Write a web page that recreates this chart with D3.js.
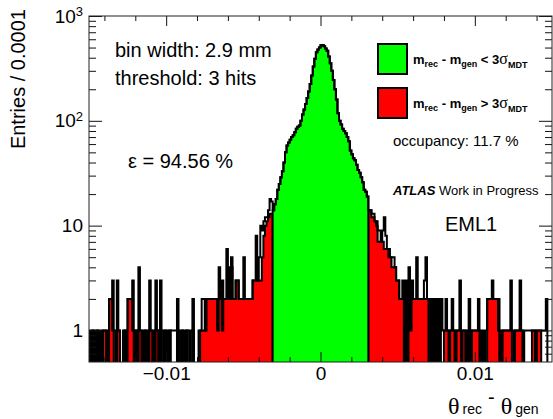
<!DOCTYPE html>
<html>
<head>
<meta charset="utf-8">
<script src="https://cdn.jsdelivr.net/npm/d3@7"></script>
<style>
  body { margin: 0; background: #fff; }
  svg { display: block; font-family: "Liberation Sans", Arial, Helvetica, sans-serif; }
  text { white-space: pre; }
</style>
</head>
<body>
<svg id="chart" width="553" height="419"></svg>
<script>
// histogram binning: 300 bins of 0.0001 from -0.015
const binLow = -0.015;
const binWidth = 0.0001;

// left tail, bins 0..118
const leftTotal = [1,0,1,0,1,1,0,1,0,1, 1,0,1,2,2,3,1,0,3,1, 0,0,1,1,1,2,2,2,3,1, 1,0,4,1,1,0,1,1,0,3,
  1,1,0,3,1,0,3,1,0,1, 1,0,1,1,1,1,1,2,1,0, 1,1,0,1,1,0,1,2,0,0, 0,1,1,2,2,1,2,2,2,2,
  2,2,2,2,4,2,3,2,2,6, 2,4,5,2,2,3,3,2,2,2, 5,2,2,2,2,2,3,3,8,3, 5,10,9,11,12,12,14,18,17];
const leftRed = [0,0,1,0,0,1,0,0,0,1, 1,0,0,2,2,1,0,0,1,1, 0,0,0,1,0,2,2,2,1,0, 1,0,1,1,0,0,1,0,0,1,
  1,0,0,1,1,0,1,0,0,1, 0,0,1,0,0,0,0,1,0,0, 1,0,0,1,0,0,0,1,0,0, 0,0,1,1,1,1,2,2,2,2,
  2,2,2,1,2,2,1,2,2,2, 2,2,4,2,2,3,3,2,2,2, 2,2,2,2,2,2,3,3,3,3, 3,3,5,8,10,11,12,13,13];

// core, bins 119..180 (m_rec - m_gen < 3 sigma)
const coreGreen = [14,16,18,22,25,29,33,40,50,58, 62,66,70,73,78,84,88,90,100,115,
  128,145,165,190,225,270,330,390,450,480, 500,525,530,515,490,465,410,355,300,245,
  200,160,118,100,92,84,80,76,70,64, 52,48,44,42,38,34,32,29,26,22, 21,19];

// right tail, bins 181..299
const rightTotal = [14,14,13,13,11,11,9,9,7,9, 12,8,6,6,5,5,5,4,3,3, 2,2,3,2,3,2,4,2,3,2, 2,5,2,2,2,2,3,5,2,2,
  0,2,0,2,0,2,0,2,1,1, 2,1,1,1,2,1,0,1,1,3, 1,1,1,0,1,2,0,1,1,1, 1,2,1,0,1,0,1,2,2,2,
  3,2,2,2,2,0,1,1,1,1, 1,1,3,1,0,1,1,1,3,1, 0,1,1,1,1,1,1,1,0,1, 1,1,1,1,1,2,0,0,0];
const rightRed = [14,14,12,12,11,10,7,7,7,7, 6,6,6,5,5,4,4,4,3,3, 2,2,2,0,2,0,2,1,2,2, 2,2,2,2,2,2,2,2,2,0,
  0,0,0,0,0,0,0,0,0,1, 1,1,0,1,1,1,0,1,1,1, 0,1,1,0,0,1,0,1,1,1, 1,1,0,0,0,0,0,2,2,2,
  2,2,2,2,1,0,0,1,1,1, 1,1,1,0,0,1,1,1,1,1, 0,0,0,0,0,0,1,1,0,1, 1,1,0,0,0,0,0,0,0];

const xTicks = [-0.01, 0, 0.01];
const xTickLabels = ["\u22120.01", "0", "0.01"];
const xMinorTicks = [-0.014, -0.012, -0.008, -0.006, -0.004, -0.002, 0.002, 0.004, 0.006, 0.008, 0.012, 0.014];
const yTicks = [1, 10, 100, 1000];
const yTickBase = ["1", "10", "10", "10"];
const yTickExp = ["", "", "2", "3"];
const yMinorTicks = [0.6, 0.7, 0.8, 0.9, 2, 3, 4, 5, 6, 7, 8, 9, 20, 30, 40, 50, 60, 70, 80, 90,
  200, 300, 400, 500, 600, 700, 800, 900];

const svg = d3.select("#chart");
const L = 89, R = 552, T = 16, B = 362;

const x = d3.scaleLinear().domain([-0.015, 0.015]).range([L, R]);
const y = d3.scaleLog().domain([0.5, 1000]).range([B, T]);
const yv = v => (v > 0 ? y(v) : B + 3);

svg.append("clipPath").attr("id", "plot")
  .append("rect").attr("x", L).attr("y", T).attr("width", R - L).attr("height", B - T);

// step points for a run of bins starting at bin index `start`
function steps(vals, start) {
  const pts = vals.map((v, k) => [binLow + (start + k) * binWidth, v]);
  pts.push([binLow + (start + vals.length) * binWidth, vals[vals.length - 1]]);
  return pts;
}

const area = d3.area().curve(d3.curveStepAfter)
  .x(d => x(d[0])).y0(B + 3).y1(d => yv(d[1]));
const line = d3.line().curve(d3.curveStepAfter)
  .x(d => x(d[0])).y(d => yv(d[1]));

const hist = svg.append("g").attr("clip-path", "url(#plot)");

const fills = [
  { vals: leftRed, start: 0, color: "#ff0000" },
  { vals: rightRed, start: 181, color: "#ff0000" },
  { vals: coreGreen, start: 119, color: "#00ff00" }
];
fills.forEach(f => {
  hist.append("path")
    .attr("d", area(steps(f.vals, f.start)))
    .attr("fill", f.color)
    .attr("stroke", "#000")
    .attr("stroke-width", 2);
});

const total = leftTotal.concat(coreGreen, rightTotal);
const totalPts = [[binLow, 0]].concat(steps(total, 0));
totalPts.push([binLow + total.length * binWidth, 0]);
hist.append("path")
  .attr("d", line(totalPts))
  .attr("fill", "none")
  .attr("stroke", "#000")
  .attr("stroke-width", 2);

// axes (ROOT style, ticks pointing inward)
function axisGroup(axis, tx, ty) {
  const g = svg.append("g").attr("transform", `translate(${tx},${ty})`).call(axis);
  g.select(".domain").remove();
  g.attr("font-size", 19).attr("font-family", null);
  g.selectAll("line").attr("stroke", "#111");
  return g;
}

axisGroup(d3.axisLeft(y).tickValues(yMinorTicks).tickSize(-7).tickFormat(""), L, 0);
const yMajor = axisGroup(d3.axisLeft(y).tickValues(yTicks).tickSize(-13).tickPadding(6), L, 0);
yMajor.selectAll(".tick text").each(function (d) {
  const k = yTicks.indexOf(d);
  const t = d3.select(this).text(null).attr("fill", "#000");
  t.append("tspan").text(yTickBase[k]);
  if (yTickExp[k]) t.append("tspan").attr("dy", "-0.5em").attr("font-size", 13).text(yTickExp[k]);
});
axisGroup(d3.axisRight(y).tickValues(yMinorTicks).tickSize(-7).tickFormat(""), R, 0);
axisGroup(d3.axisRight(y).tickValues(yTicks).tickSize(-13).tickFormat(""), R, 0);

axisGroup(d3.axisBottom(x).tickValues(xMinorTicks).tickSize(-5).tickFormat(""), 0, B);
axisGroup(d3.axisBottom(x).tickValues(xTicks).tickSize(-10).tickPadding(5)
  .tickFormat((d, i) => xTickLabels[i]), 0, B)
  .selectAll("text").attr("fill", "#000");
axisGroup(d3.axisTop(x).tickValues(xMinorTicks).tickSize(-5).tickFormat(""), 0, T);
axisGroup(d3.axisTop(x).tickValues(xTicks).tickSize(-10).tickFormat(""), 0, T);

svg.append("rect")
  .attr("x", L).attr("y", T).attr("width", R - L).attr("height", B - T)
  .attr("fill", "none").attr("stroke", "#222").attr("stroke-width", 1);

// rich text helper: parts with optional baseline shift, size, family, weight
function richText(px, py, parts, size, weight) {
  const t = svg.append("text").attr("x", px).attr("y", py)
    .attr("font-size", size).attr("font-weight", weight || null);
  let shift = 0;
  parts.forEach(p => {
    const want = p.dy || 0;
    const s = t.append("tspan").text(p.t).attr("dy", want - shift);
    shift = want;
    if (p.dx) s.attr("dx", p.dx);
    if (p.size) s.attr("font-size", p.size);
    if (p.family) s.attr("font-family", p.family);
    if (p.weight) s.attr("font-weight", p.weight);
    if (p.style) s.attr("font-style", p.style);
  });
  return t;
}

// y title
svg.append("text")
  .attr("transform", `translate(25,9) rotate(-90)`)
  .attr("text-anchor", "end").attr("font-size", 20)
  .text("Entries / 0.0001");

// x title
const serif = "'Liberation Serif', 'DejaVu Serif', serif";
richText(448, 414, [
  { t: "\u03b8", family: serif, size: 24 },
  { t: "rec", size: 14, dx: 3 },
  { t: "-", size: 20, dy: -10, dx: 6 },
  { t: "\u03b8", family: serif, size: 24, dx: 6 },
  { t: "gen", size: 14, dx: 3 }
], 19);

// info texts
svg.append("text").attr("x", 115).attr("y", 57).attr("font-size", 20).text("bin width: 2.9 mm");
svg.append("text").attr("x", 115).attr("y", 85).attr("font-size", 20).text("threshold: 3 hits");
svg.append("text").attr("x", 128).attr("y", 168).attr("font-size", 20).text("\u03b5 = 94.56 %");
svg.append("text").attr("x", 393).attr("y", 146).attr("font-size", 15).text("occupancy: 11.7 %");
richText(393, 195, [
  { t: "ATLAS", weight: "bold", style: "italic" },
  { t: " Work in Progress" }
], 13);
svg.append("text").attr("x", 445).attr("y", 231).attr("font-size", 20).text("EML1");

// legend
const legendRows = [
  { color: "#00ff00", sign: " < 3", y: 44 },
  { color: "#ff0000", sign: " > 3", y: 88 }
];
legendRows.forEach(r => {
  svg.append("rect").attr("x", 378).attr("y", r.y).attr("width", 29).attr("height", 30)
    .attr("fill", r.color).attr("stroke", "#000").attr("stroke-width", 2);
  richText(413, r.y + 20, [
    { t: "m" },
    { t: "rec", size: 9, dy: 3 },
    { t: " - m" },
    { t: "gen", size: 9, dy: 3 },
    { t: r.sign },
    { t: "\u03c3", family: serif, size: 16, weight: "normal" },
    { t: "MDT", size: 9, dy: 4 }
  ], 13, "bold");
});
</script>
</body>
</html>
